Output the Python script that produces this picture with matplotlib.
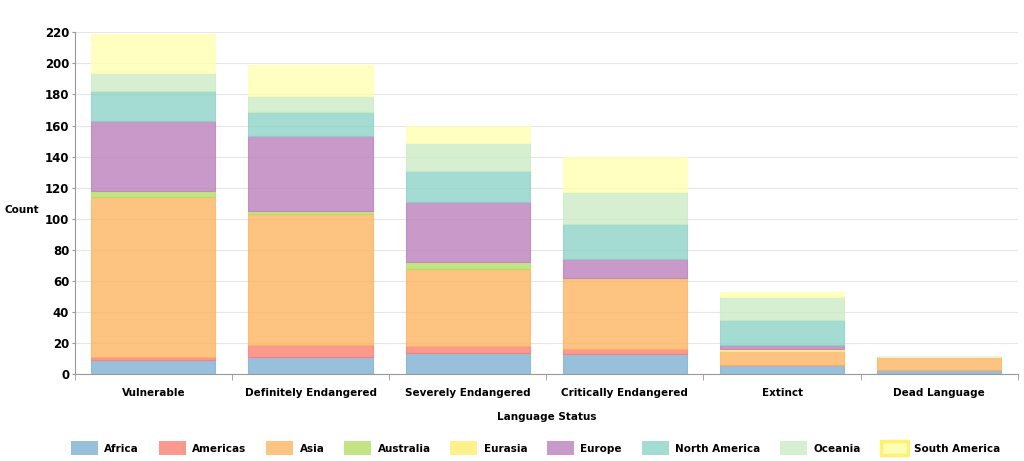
import matplotlib.pyplot as plt
import numpy as np
from matplotlib.patches import Patch

statuses = ["Vulnerable", "Definitely Endangered", "Severely Endangered",
            "Critically Endangered", "Extinct", "Dead Language"]
regions = ["Africa", "Americas", "Asia", "Australia", "Eurasia",
           "Europe", "North America", "Oceania", "South America"]

# counts per region, one value per status
africa = [9, 11, 14, 13, 6, 3]
americas = [2, 8, 4, 3, 0, 0]
asia = [103, 84, 50, 46, 9, 8]
australia = [4, 2, 4, 0, 0, 0]
eurasia = [0, 0, 0, 0, 1, 0]
europe = [45, 48, 39, 12, 3, 0]
north_america = [19, 16, 20, 23, 16, 0]
oceania = [12, 10, 18, 20, 15, 0]
south_america = [25, 20, 11, 23, 3, 0]

series = [africa, americas, asia, australia, eurasia,
          europe, north_america, oceania, south_america]
colors = ["#80b1d3", "#fb8072", "#fdb462", "#b3de69", "#ffed6f",
          "#bc80bd", "#8dd3c7", "#ccebc5", "#ffffb3"]

plt.rcParams.update({"font.family": "DejaVu Sans", "font.weight": "bold"})

fig = plt.figure(figsize=(10.24, 4.61), dpi=100)
ax = fig.add_axes([0.073, 0.188, 0.921, 0.742])

x = np.arange(len(statuses))
bottom = np.zeros(len(statuses))
for vals, col in zip(series, colors):
    ax.bar(x, vals, 0.79, bottom=bottom, color=col, alpha=0.8,
           edgecolor=col, linewidth=0.8)
    bottom += np.array(vals)

ax.set_xlim(-0.5, len(statuses) - 0.5)
ax.set_ylim(0, 220)
ax.set_yticks(np.arange(0, 221, 20))
ax.set_axisbelow(True)
ax.grid(axis="y", color="#e6e6e6", linewidth=0.8)

ax.set_xticks(x)
ax.set_xticklabels(statuses, fontsize=7.5, fontweight="bold")
ax.tick_params(axis="x", length=0, pad=10)
ax.set_xticks(np.arange(-0.5, len(statuses)), minor=True)
ax.tick_params(axis="x", which="minor", length=4, color="#999999")
ax.tick_params(axis="y", labelsize=8.5, length=2, pad=2, color="#999999")
for lab in ax.get_yticklabels():
    lab.set_fontweight("bold")

for s in ["top", "right"]:
    ax.spines[s].set_visible(False)
for s in ["left", "bottom"]:
    ax.spines[s].set_color("#999999")

ax.set_xlabel("Language Status", fontsize=7.5, fontweight="bold", labelpad=10)
ax.set_ylabel("Count", fontsize=7.5, fontweight="bold", rotation=0, va="center")
ax.yaxis.set_label_coords(-0.056, 0.48)

handles = []
for name, col in zip(regions, colors):
    if name == "South America":
        handles.append(Patch(facecolor=col, edgecolor="#fff176", linewidth=2.5, label=name))
    else:
        handles.append(Patch(facecolor=col, edgecolor=col, linewidth=0, alpha=0.8, label=name))
fig.legend(handles=handles, loc="center", bbox_to_anchor=(0.523, 0.028), ncol=9,
           frameon=False, handlelength=2.6, handleheight=1.6,
           columnspacing=1.9, handletextpad=0.6, prop={"weight": "bold", "size": 7.5})

fig.savefig("out.png", dpi=100)
